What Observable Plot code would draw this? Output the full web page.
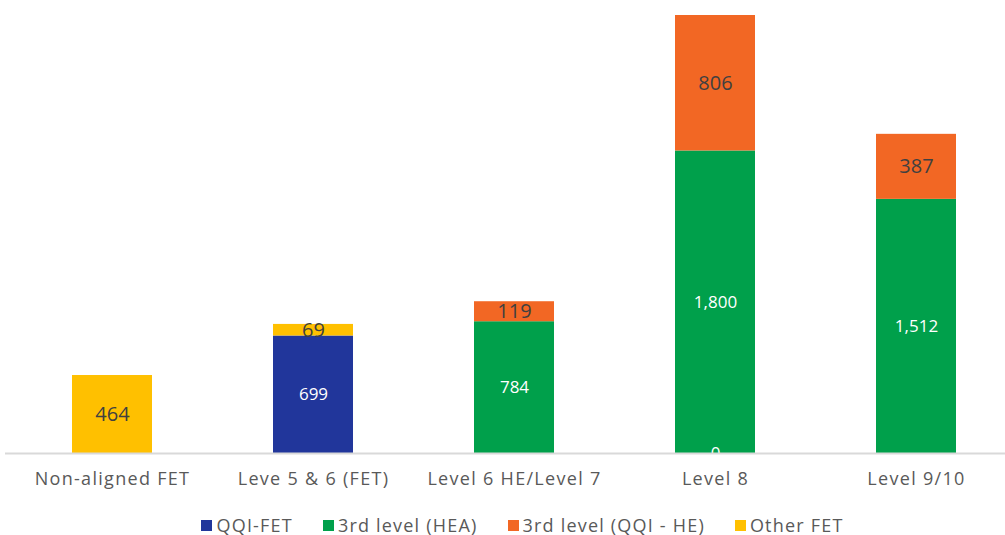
<!DOCTYPE html>
<html>
<head>
<meta charset="utf-8">
<script src="https://cdn.jsdelivr.net/npm/d3@7"></script>
<script src="https://cdn.jsdelivr.net/npm/@observablehq/plot@0.6"></script>
<style>
  body { margin: 0; background: #fff; font-family: "Open Sans", Lato, sans-serif; }
  #legend { display: flex; justify-content: center; align-items: center; height: 50px; margin-left: 40px; font-size: 18px; letter-spacing: 1.2px; color: #595959; }
  #legend .item { display: flex; align-items: center; margin: 0 15px; }
  #legend .sw { width: 11px; height: 11px; margin-right: 4px; }
  #chart svg g[aria-label="x-axis tick label"] text { letter-spacing: 1.3px; }
</style>
</head>
<body>
<div id="chart"></div>
<div id="legend"></div>
<script>
const categories = ["Non-aligned FET", "Leve 5 & 6 (FET)", "Level 6 HE/Level 7", "Level 8", "Level 9/10"];
const seriesNames = ["QQI-FET", "3rd level (HEA)", "3rd level (QQI - HE)", "Other FET"];
const qqiFet = [null, 699, null, 0, null];
const hea = [null, null, 784, 1800, 1512];
const qqiHe = [null, null, 119, 806, 387];
const otherFet = [464, 69, null, null, null];
const seriesColors = ["#21369b", "#00a04b", "#f26724", "#ffc000"];
const labelColors = ["#ffffff", "#ffffff", "#404040", "#404040"];
const labelSizes = [17, 17, 20, 20];

const valuesBySeries = [qqiFet, hea, qqiHe, otherFet];
const data = [];
valuesBySeries.forEach((vals, si) => {
  vals.forEach((v, ci) => {
    if (v !== null) data.push({category: categories[ci], series: seriesNames[si], value: v, si});
  });
});
const fmt = d3.format(",");
const totalMax = 2606;

const stackOpts = (extra) => Plot.stackY({x: "category", y: "value", z: "series", order: seriesNames, ...extra});

const chart = Plot.plot({
  width: 1005,
  height: 500,
  marginLeft: 5,
  marginRight: 0,
  marginTop: 15,
  marginBottom: 47,
  style: {fontFamily: "'Open Sans', Lato, sans-serif", background: "#fff"},
  x: {domain: categories, range: [10, 1019], paddingInner: 0.6, paddingOuter: 0.3, label: null},
  y: {domain: [0, totalMax], range: [453, 15], axis: null},
  color: {domain: seriesNames, range: seriesColors},
  marks: [
    Plot.barY(data, stackOpts({fill: "series"})),
    Plot.text(data, stackOpts({text: d => fmt(d.value), fill: d => labelColors[d.si], fontSize: d => labelSizes[d.si]})),
    Plot.ruleY([0], {stroke: "#d9d9d9", strokeWidth: 2}),
    Plot.axisX({tickSize: 0, tickPadding: 19, fontSize: 18, color: "#595959", label: null})
  ]
});
document.getElementById("chart").appendChild(chart);

const legend = document.getElementById("legend");
seriesNames.forEach((name, i) => {
  const item = document.createElement("div");
  item.className = "item";
  const sw = document.createElement("span");
  sw.className = "sw";
  sw.style.background = seriesColors[i];
  const t = document.createElement("span");
  t.textContent = name;
  item.appendChild(sw);
  item.appendChild(t);
  legend.appendChild(item);
});
</script>
</body>
</html>
